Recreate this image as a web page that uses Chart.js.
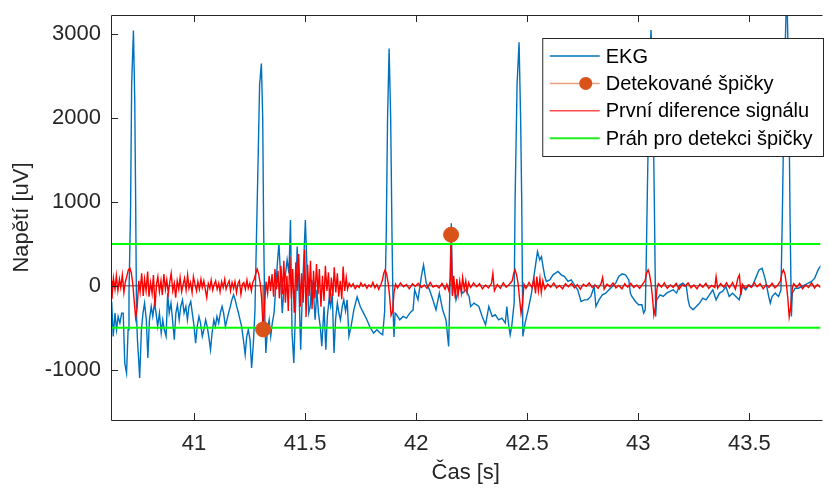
<!DOCTYPE html>
<html>
<head>
<meta charset="utf-8">
<script src="https://cdn.jsdelivr.net/npm/chart.js@4"></script>
<style>
  body { margin: 0; background: #fff; }
  canvas { display: block; }
</style>
</head>
<body>
<canvas id="ekgChart" width="829" height="494"></canvas>
<script>
// axis limits and tick positions
const xMin = 40.626;
const xMax = 43.82;
const yMin = -1600;
const yMax = 3230;
const xTicks = [41, 41.5, 42, 42.5, 43, 43.5];
const yTicks = [-1000, 0, 1000, 2000, 3000];

// threshold used for peak detection [uV]
const threshold = 500;

// detected peaks (time [s], value of first difference)
const peakTimes = [41.311, 42.157];
const peakValues = [-520, 610];

// EKG record [time s, voltage uV]
const ekgSamples = [
  [40.629, -187], [40.636, -603], [40.644, -325], [40.651, -524], [40.658, -365], [40.666, -444],
  [40.674, -325], [40.681, -325], [40.688, -921], [40.696, -1040], [40.703, -524], [40.707, -100],
  [40.714, 900], [40.719, 2400], [40.727, 3045], [40.733, 2200], [40.737, 1000], [40.741, -365],
  [40.745, -643], [40.751, -900], [40.755, -1099], [40.763, -524], [40.770, -325], [40.777, -206],
  [40.785, -405], [40.792, -861], [40.799, -405], [40.807, -246], [40.814, -365], [40.822, -206],
  [40.829, -325], [40.836, -484], [40.844, -325], [40.852, -563], [40.859, -405], [40.866, -524],
  [40.874, -603], [40.881, -87], [40.888, -325], [40.896, -206], [40.903, -405], [40.911, -643],
  [40.918, -325], [40.925, -226], [40.933, -405], [40.940, -246], [40.948, -167], [40.955, -325],
  [40.963, -246], [40.970, -405], [40.977, -246], [40.985, -187], [40.992, -325], [41.000, -484],
  [41.007, -683], [41.014, -484], [41.022, -365], [41.029, -444], [41.037, -603], [41.044, -524],
  [41.052, -405], [41.059, -484], [41.066, -603], [41.074, -762], [41.081, -563], [41.089, -405],
  [41.096, -484], [41.103, -365], [41.111, -444], [41.118, -325], [41.126, -246], [41.133, -325],
  [41.141, -484], [41.148, -405], [41.155, -325], [41.163, -246], [41.170, -167], [41.178, -107],
  [41.185, -167], [41.192, -246], [41.200, -325], [41.207, -405], [41.214, -484], [41.222, -643],
  [41.230, -821], [41.237, -603], [41.244, -524], [41.252, -643], [41.259, -980], [41.267, -683],
  [41.274, -300], [41.281, 600], [41.289, 1600], [41.295, 2400], [41.303, 2650], [41.309, 2000],
  [41.313, 700], [41.318, -300], [41.323, -800], [41.330, -540], [41.338, -405], [41.345, -603],
  [41.352, -444], [41.360, -325], [41.367, -48], [41.375, 270], [41.382, 508], [41.390, 71],
  [41.397, -325], [41.404, -48], [41.412, 151], [41.419, 310], [41.427, 151], [41.434, 786],
  [41.441, -563], [41.449, -921], [41.456, -325], [41.464, 468], [41.471, 71], [41.480, -762],
  [41.487, -107], [41.493, 270], [41.501, 786], [41.508, 230], [41.516, -325], [41.523, -246],
  [41.530, 71], [41.538, -107], [41.545, -405], [41.553, -48], [41.560, -325], [41.568, -484],
  [41.575, -720], [41.585, -246], [41.593, -762], [41.600, -365], [41.608, -150], [41.615, -246],
  [41.622, -87], [41.630, -802], [41.637, -400], [41.645, -206], [41.652, -324], [41.659, -405],
  [41.667, -246], [41.674, -167], [41.682, -300], [41.689, -167], [41.697, -600], [41.707, -480],
  [41.719, -290], [41.734, -130], [41.748, -246], [41.763, -325], [41.778, -405], [41.793, -500],
  [41.808, -563], [41.823, -524], [41.837, -563], [41.849, -583], [41.858, -300], [41.865, 600],
  [41.871, 2000], [41.878, 2830], [41.885, 2000], [41.891, 600], [41.896, -300], [41.900, -610],
  [41.905, -325], [41.912, -345], [41.926, -405], [41.941, -365], [41.956, -385], [41.971, -325],
  [41.986, -286], [41.993, -48], [42.008, -167], [42.023, 111], [42.033, 250], [42.045, 32],
  [42.060, -48], [42.075, -167], [42.089, -286], [42.104, -87], [42.119, -286], [42.134, -405],
  [42.146, -722], [42.152, 0], [42.158, 746], [42.163, -100], [42.168, 71], [42.179, -167],
  [42.194, -8], [42.209, -87], [42.223, -48], [42.238, -127], [42.245, -246], [42.260, -206],
  [42.282, -246], [42.297, -365], [42.312, -464], [42.327, -246], [42.342, -365], [42.356, -345],
  [42.371, -405], [42.386, -385], [42.401, -444], [42.408, -246], [42.415, -444], [42.423, -583],
  [42.430, -484], [42.441, -200], [42.445, 1000], [42.454, 2400], [42.463, 2905], [42.470, 2000],
  [42.475, 1000], [42.480, -603], [42.490, -444], [42.504, -286], [42.519, -87], [42.534, 190],
  [42.546, 409], [42.556, 310], [42.564, 349], [42.571, 230], [42.579, 111], [42.586, 52],
  [42.601, 71], [42.616, 131], [42.638, 171], [42.653, 131], [42.668, 111], [42.683, 52],
  [42.698, 71], [42.712, 12], [42.727, -48], [42.742, -187], [42.757, -167], [42.771, -167],
  [42.786, -127], [42.801, -8], [42.809, -246], [42.823, -167], [42.838, -107], [42.853, -87],
  [42.868, -48], [42.883, -8], [42.898, 32], [42.912, 111], [42.927, 143], [42.942, 131],
  [42.957, 71], [42.964, -87], [42.971, -127], [42.987, -187], [43.001, -226], [43.016, -226],
  [43.024, -325], [43.031, -286], [43.035, 200], [43.041, 1200], [43.050, 2600], [43.057, 3050],
  [43.064, 2600], [43.072, 1000], [43.078, -365], [43.082, -167], [43.098, -107], [43.112, -127],
  [43.127, -87], [43.142, -67], [43.157, -48], [43.172, -87], [43.187, 12], [43.201, 32],
  [43.216, -8], [43.224, -167], [43.231, -246], [43.246, -286], [43.261, -246], [43.276, -206],
  [43.290, -147], [43.305, -167], [43.320, -107], [43.335, -48], [43.350, -167], [43.365, -87],
  [43.379, -67], [43.394, -8], [43.409, -127], [43.424, -87], [43.439, -127], [43.454, -167],
  [43.468, -8], [43.483, -48], [43.498, 12], [43.513, -8], [43.528, 92], [43.543, 190],
  [43.557, 210], [43.572, 71], [43.587, -127], [43.594, -206], [43.602, -127], [43.616, -87],
  [43.631, -127], [43.642, -50], [43.648, 800], [43.657, 2400], [43.668, 3600], [43.677, 2400],
  [43.683, 800], [43.689, -365], [43.693, -87], [43.706, -28], [43.720, -28], [43.735, -8],
  [43.750, 12], [43.765, 32], [43.780, 52], [43.794, 92], [43.809, 190], [43.819, 230],
  [43.828, 250]
];

// first difference of the EKG [time s, value]
const diffSamples = [
  [40.626, 60], [40.630, -160], [40.637, 90], [40.644, -40], [40.650, 120], [40.657, -60],
  [40.664, 80], [40.670, -20], [40.677, 130], [40.684, -80], [40.690, 40], [40.697, 110],
  [40.704, 190], [40.711, 210], [40.717, 160], [40.724, 30], [40.731, -200], [40.737, -380],
  [40.744, -250], [40.751, 60], [40.757, -70], [40.764, 150], [40.771, -120], [40.777, 80],
  [40.784, -60], [40.791, 170], [40.797, -130], [40.804, 40], [40.811, -90], [40.817, 130],
  [40.824, -250], [40.831, 20], [40.837, 110], [40.844, -70], [40.851, 60], [40.857, -110],
  [40.864, 140], [40.871, -40], [40.877, 70], [40.884, -90], [40.891, 50], [40.897, 150],
  [40.904, -60], [40.911, 30], [40.917, -140], [40.924, 60], [40.931, -40], [40.937, 100],
  [40.944, -70], [40.951, 20], [40.957, 90], [40.964, -50], [40.971, 130], [40.977, -30],
  [40.984, 40], [40.991, -80], [40.997, 110], [41.004, 20], [41.011, -60], [41.017, 50],
  [41.024, -40], [41.031, 80], [41.037, -20], [41.044, 60], [41.051, -50], [41.057, -140],
  [41.064, 30], [41.071, -30], [41.077, 70], [41.084, -50], [41.091, 20], [41.097, 60],
  [41.104, -40], [41.111, 30], [41.117, -70], [41.124, 50], [41.131, -20], [41.138, 80],
  [41.144, -40], [41.151, 20], [41.158, 60], [41.164, -60], [41.171, 40], [41.178, -30],
  [41.184, 50], [41.191, -80], [41.198, 30], [41.204, 60], [41.211, -100], [41.218, 20],
  [41.224, 40], [41.231, -40], [41.238, 70], [41.244, -30], [41.251, 30], [41.258, -60],
  [41.264, 40], [41.271, 80], [41.278, 150], [41.284, 200], [41.291, 140], [41.298, 20],
  [41.304, -150], [41.311, -520], [41.318, -200], [41.324, 50], [41.331, -90], [41.338, 120],
  [41.344, -60], [41.351, 140], [41.358, -130], [41.364, 200], [41.371, -40], [41.378, 180],
  [41.384, -150], [41.391, 240], [41.398, -100], [41.404, 300], [41.411, -200], [41.418, 120],
  [41.424, -300], [41.431, 350], [41.438, -150], [41.444, 200], [41.451, -320], [41.458, 280],
  [41.464, -60], [41.471, 380], [41.478, -250], [41.484, 150], [41.491, -200], [41.498, 430],
  [41.504, -370], [41.511, 250], [41.518, -120], [41.524, 300], [41.531, -280], [41.538, 180],
  [41.544, -150], [41.551, 260], [41.558, -100], [41.564, 200], [41.571, -250], [41.578, 120],
  [41.585, -180], [41.591, 240], [41.598, -60], [41.605, 160], [41.611, -200], [41.618, 100],
  [41.625, -120], [41.631, 220], [41.638, -80], [41.645, 150], [41.651, -130], [41.658, 60],
  [41.665, -160], [41.671, 230], [41.678, -60], [41.685, 100], [41.691, -40],
  [41.698, 30], [41.707, -10], [41.716, 25], [41.725, -35], [41.734, 5], [41.743, -20],
  [41.751, 35], [41.760, -5], [41.769, 20], [41.778, -30], [41.787, 10], [41.796, -15],
  [41.805, 40], [41.814, -25], [41.823, 15], [41.831, -40], [41.840, 10], [41.847, 60],
  [41.854, 150], [41.860, 190], [41.867, 140], [41.874, 30], [41.880, -120], [41.887, -350],
  [41.894, -300], [41.900, -80], [41.907, 20], [41.916, -25], [41.929, 35], [41.943, -10],
  [41.956, 15], [41.969, -35], [41.983, 25], [41.996, -5], [42.009, 30], [42.023, -20],
  [42.036, 10], [42.049, -30], [42.063, 40], [42.076, -15], [42.090, 5], [42.103, -25],
  [42.116, 30], [42.130, -40], [42.138, 20], [42.147, -60], [42.154, 100], [42.157, 610],
  [42.163, -120], [42.169, 120], [42.176, -150], [42.183, 80], [42.189, -100], [42.196, 60],
  [42.203, -80], [42.209, 100], [42.216, -40], [42.223, 60], [42.229, -70], [42.236, 40],
  [42.245, -20], [42.258, 35], [42.272, -10], [42.285, 25], [42.298, -35], [42.312, 10],
  [42.325, -25], [42.339, 30], [42.345, 150], [42.352, -60], [42.365, 15], [42.379, -30],
  [42.392, 35], [42.405, -15], [42.419, 20], [42.432, 60], [42.439, 150], [42.445, 190],
  [42.452, 130], [42.459, 20], [42.465, -150], [42.472, -330], [42.479, -200], [42.485, 20],
  [42.494, -30], [42.508, 40], [42.521, -20], [42.530, 80], [42.537, -90], [42.543, 110],
  [42.550, -60], [42.557, 90], [42.563, -80], [42.570, 60], [42.579, -40], [42.592, 20],
  [42.605, -15], [42.619, 35], [42.632, -25], [42.645, 5], [42.659, -35], [42.672, 25],
  [42.685, -10], [42.699, 30], [42.712, -25], [42.725, 15], [42.739, -40], [42.752, 20],
  [42.765, -5], [42.779, 35], [42.792, -20], [42.805, 10], [42.819, -30], [42.832, 25],
  [42.839, 100], [42.846, -40], [42.859, 20], [42.872, -10], [42.886, 35], [42.899, -25],
  [42.912, 5], [42.926, -35], [42.939, 25], [42.952, -15], [42.966, 30], [42.979, -20],
  [42.993, 10], [43.006, -30], [43.019, 20], [43.030, 60], [43.037, 150], [43.044, 190],
  [43.050, 140], [43.057, 30], [43.064, -150], [43.070, -350], [43.077, -250], [43.084, -30],
  [43.090, 25], [43.104, -15], [43.117, 35], [43.130, -30], [43.144, 10], [43.157, -20],
  [43.170, 30], [43.184, -40], [43.197, 15], [43.210, -5], [43.224, 35], [43.237, -25],
  [43.250, 10], [43.264, -35], [43.277, 20], [43.290, -15], [43.304, 30], [43.317, -30],
  [43.330, 5], [43.344, -20], [43.350, 110], [43.357, -30], [43.370, 25], [43.384, -15],
  [43.397, 35], [43.410, -25], [43.424, 40], [43.437, -40], [43.448, 90], [43.455, 130],
  [43.462, -110], [43.468, 20], [43.482, -30], [43.495, 10], [43.508, -20], [43.522, 35],
  [43.535, -10], [43.548, 25], [43.562, -35], [43.575, 15], [43.588, -20], [43.602, 30],
  [43.615, -25], [43.628, 10], [43.640, 60], [43.646, 150], [43.653, 190], [43.660, 140],
  [43.666, 30], [43.673, -150], [43.679, -370], [43.686, -250], [43.693, -30], [43.699, 25],
  [43.713, -15], [43.726, 30], [43.739, -35], [43.753, 10], [43.766, -20], [43.780, 35],
  [43.793, -25], [43.806, 15], [43.820, -20], [43.829, 10]
];

const FONT = '"Liberation Sans", Arial, Helvetica, sans-serif';
const AXIS_COLOR = '#262626';

const toPoints = rows => rows.map(r => ({ x: r[0], y: r[1] }));

// stems from the zero baseline up/down to every detected peak
const stemPoints = peakTimes.flatMap((t, i) => [
  { x: t, y: 0 }, { x: t, y: peakValues[i] }, { x: t, y: null }
]);

const datasets = [
  {
    label: 'EKG',
    data: toPoints(ekgSamples),
    borderColor: '#0072BD',
    borderWidth: 1.4,
    order: 6
  },
  {
    label: 'baseline',
    data: [{ x: xMin, y: 0 }, { x: xMax, y: 0 }],
    borderColor: '#404040',
    borderWidth: 1,
    order: 5
  },
  {
    label: 'Detekované špičky',
    data: stemPoints,
    borderColor: '#D95319',
    borderWidth: 1,
    order: 4
  },
  {
    label: 'První diference signálu',
    data: toPoints(diffSamples),
    borderColor: '#FF0000',
    borderWidth: 1.4,
    order: 3
  },
  {
    label: 'Práh pro detekci špičky',
    data: [{ x: xMin, y: threshold }, { x: xMax, y: threshold }],
    borderColor: '#00FF00',
    borderWidth: 2,
    order: 2
  },
  {
    label: 'Práh pro detekci špičky',
    data: [{ x: xMin, y: -threshold }, { x: xMax, y: -threshold }],
    borderColor: '#00FF00',
    borderWidth: 2,
    order: 2
  },
  {
    label: 'peaks',
    data: peakTimes.map((t, i) => ({ x: t, y: peakValues[i] })),
    showLine: false,
    pointRadius: 7.5,
    pointBackgroundColor: '#D95319',
    pointBorderColor: '#D95319',
    order: 1
  }
];

// legend entries shown in the box
const legendItems = [
  { text: 'EKG', color: '#0072BD' },
  { text: 'Detekované špičky', color: '#E9A17F', marker: '#D95319' },
  { text: 'První diference signálu', color: '#FF4D4D' },
  { text: 'Práh pro detekci špičky', color: '#22EE22' }
];

// axes box with inward ticks plus the legend box
const framePlugin = {
  id: 'frame',
  afterDatasetsDraw(chart) {
    const { ctx, chartArea: a, scales } = chart;
    const x = scales.x, y = scales.y;
    ctx.save();
    ctx.strokeStyle = AXIS_COLOR;
    ctx.lineWidth = 1;
    ctx.beginPath();
    ctx.moveTo(a.right + 2, a.top + 0.5);
    ctx.lineTo(a.left + 0.5, a.top + 0.5);
    ctx.lineTo(a.left + 0.5, a.bottom + 0.5);
    ctx.lineTo(a.right + 2, a.bottom + 0.5);
    xTicks.forEach(v => {
      const px = Math.round(x.getPixelForValue(v)) + 0.5;
      ctx.moveTo(px, a.bottom);
      ctx.lineTo(px, a.bottom - 7);
      ctx.moveTo(px, a.top);
      ctx.lineTo(px, a.top + 7);
    });
    yTicks.forEach(v => {
      const py = Math.round(y.getPixelForValue(v)) + 0.5;
      ctx.moveTo(a.left, py);
      ctx.lineTo(a.left + 7, py);
    });
    ctx.stroke();

    // legend
    ctx.font = '20px ' + FONT;
    const textW = Math.max(...legendItems.map(it => ctx.measureText(it.text).width));
    const boxW = 63 + textW + 11;
    const boxR = 823.5, boxT = 38.5, boxH = 118;
    const boxL = boxR - boxW;
    ctx.fillStyle = '#fff';
    ctx.fillRect(boxL, boxT, boxW, boxH);
    ctx.strokeStyle = AXIS_COLOR;
    ctx.strokeRect(boxL, boxT, boxW, boxH);
    legendItems.forEach((it, i) => {
      const cy = 56 + i * 27.4;
      ctx.strokeStyle = it.color;
      ctx.lineWidth = it.color === '#22EE22' ? 2 : 1.5;
      ctx.beginPath();
      ctx.moveTo(boxL + 7, cy);
      ctx.lineTo(boxL + 57, cy);
      ctx.stroke();
      if (it.marker) {
        ctx.fillStyle = it.marker;
        ctx.beginPath();
        ctx.arc(boxL + 43, cy, 6.5, 0, Math.PI * 2);
        ctx.fill();
      }
      ctx.fillStyle = '#000';
      ctx.textBaseline = 'middle';
      ctx.textAlign = 'left';
      ctx.fillText(it.text, boxL + 63, cy + 1);
    });
    ctx.restore();
  }
};

new Chart(document.getElementById('ekgChart'), {
  type: 'line',
  data: { datasets },
  options: {
    responsive: false,
    animation: false,
    elements: { point: { radius: 0 }, line: { tension: 0 } },
    layout: { padding: { top: 15, left: 0, right: 0, bottom: 0 } },
    plugins: { legend: { display: false }, tooltip: { enabled: false } },
    scales: {
      x: {
        type: 'linear',
        min: xMin,
        max: xMax,
        afterBuildTicks: s => { s.ticks = xTicks.map(v => ({ value: v })); },
        afterFit: s => { s.height = 74; s.paddingLeft = 0; s.paddingRight = 0; },
        grid: { display: false, drawTicks: false },
        border: { display: false },
        ticks: {
          color: AXIS_COLOR,
          font: { family: FONT, size: 22 },
          padding: 11,
          maxRotation: 0,
          autoSkip: false,
          callback: v => String(v)
        },
        title: {
          display: true,
          text: 'Čas [s]',
          color: AXIS_COLOR,
          font: { family: FONT, size: 22 },
          padding: { top: 0, bottom: 8 }
        }
      },
      y: {
        type: 'linear',
        min: yMin,
        max: yMax,
        afterBuildTicks: s => { s.ticks = yTicks.map(v => ({ value: v })); },
        afterFit: s => { s.width = 111; s.paddingTop = 0; s.paddingBottom = 0; },
        grid: { display: false, drawTicks: false },
        border: { display: false },
        ticks: {
          color: AXIS_COLOR,
          font: { family: FONT, size: 22 },
          padding: 10,
          callback: v => String(v)
        },
        title: {
          display: true,
          text: 'Napětí [uV]',
          color: AXIS_COLOR,
          font: { family: FONT, size: 22 },
          padding: { top: 9, bottom: 0 }
        }
      }
    }
  },
  plugins: [framePlugin]
});
</script>
</body>
</html>
